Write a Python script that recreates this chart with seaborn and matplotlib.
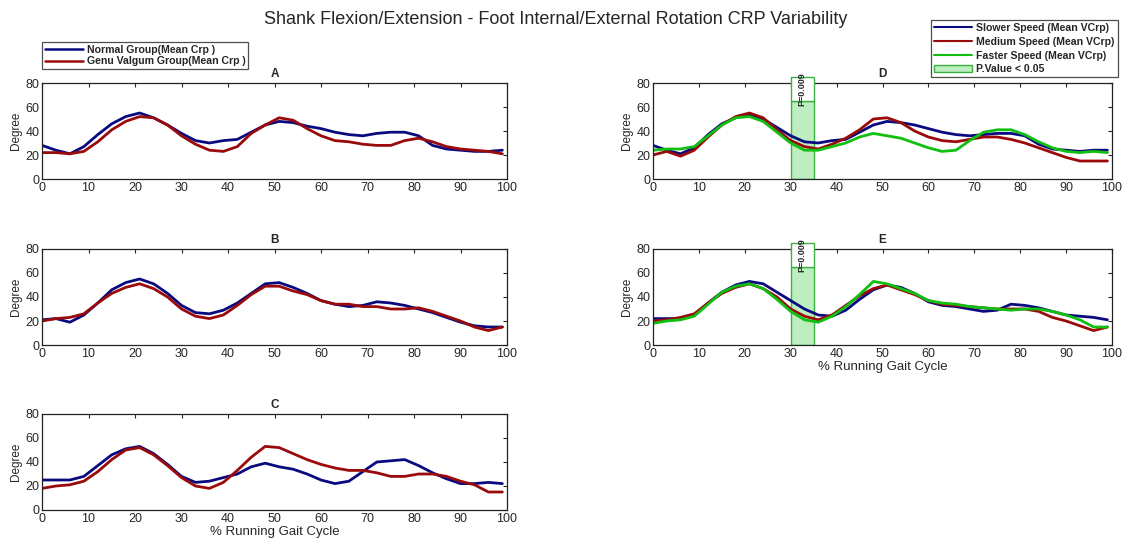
import numpy as np
import pandas as pd
import matplotlib
matplotlib.use("Agg")
import matplotlib.pyplot as plt
from matplotlib.patches import Rectangle, Patch
from matplotlib.lines import Line2D
import seaborn as sns

sns.set_style("white")
plt.rcParams['font.family'] = ['Liberation Sans', 'DejaVu Sans']

# ---------------- data ----------------
gait = list(range(0, 100, 3))  # % running gait cycle

a_normal = [28, 24, 21, 27, 37, 46, 52, 55, 51, 45, 38, 32, 30, 32, 33, 39, 45, 48, 47, 44, 42, 39, 37, 36, 38, 39, 39, 36, 28, 25, 24, 23, 23, 24]
a_valgum = [22, 22, 21, 23, 31, 41, 48, 52, 51, 45, 36, 29, 24, 23, 27, 38, 45, 51, 49, 42, 36, 32, 31, 29, 28, 28, 32, 34, 31, 27, 25, 24, 23, 21]

b_normal = [21, 22, 19, 25, 35, 46, 52, 55, 51, 43, 33, 27, 26, 29, 35, 43, 51, 52, 48, 43, 37, 34, 32, 33, 36, 35, 33, 30, 27, 23, 19, 16, 15, 15]
b_valgum = [20, 22, 23, 26, 35, 43, 48, 51, 47, 40, 30, 24, 22, 25, 33, 42, 49, 49, 45, 42, 37, 34, 34, 32, 32, 30, 30, 31, 28, 24, 20, 15, 12, 15]

c_normal = [25, 25, 25, 28, 37, 46, 51, 53, 47, 38, 28, 23, 24, 27, 30, 36, 39, 36, 34, 30, 25, 22, 24, 32, 40, 41, 42, 37, 31, 26, 22, 22, 23, 22]
c_valgum = [18, 20, 21, 24, 32, 42, 50, 52, 46, 37, 27, 20, 18, 23, 33, 44, 53, 52, 47, 42, 38, 35, 33, 33, 31, 28, 28, 30, 30, 28, 24, 21, 15, 15]

d_slower = [28, 24, 21, 26, 37, 46, 51, 54, 50, 43, 36, 31, 30, 32, 33, 39, 45, 48, 47, 45, 42, 39, 37, 36, 37, 38, 38, 36, 29, 25, 24, 23, 24, 24]
d_medium = [20, 23, 19, 24, 35, 45, 52, 55, 51, 41, 32, 27, 25, 29, 34, 41, 50, 51, 47, 40, 35, 32, 31, 33, 35, 35, 33, 30, 26, 22, 18, 15, 15, 15]
d_faster = [24, 25, 25, 27, 36, 45, 51, 52, 48, 39, 30, 24, 24, 27, 30, 35, 38, 36, 34, 30, 26, 23, 24, 32, 39, 41, 41, 37, 31, 26, 23, 22, 23, 22]

e_slower = [22, 22, 22, 25, 35, 44, 50, 53, 51, 44, 37, 30, 25, 24, 29, 38, 46, 50, 48, 43, 36, 33, 32, 30, 28, 29, 34, 33, 31, 28, 25, 24, 23, 21]
e_medium = [20, 21, 23, 26, 35, 43, 48, 51, 47, 40, 30, 24, 21, 25, 33, 41, 47, 50, 46, 42, 37, 34, 33, 32, 31, 30, 30, 30, 28, 23, 20, 16, 12, 15]
e_faster = [18, 20, 21, 24, 34, 44, 49, 51, 47, 38, 28, 21, 19, 24, 32, 42, 53, 51, 47, 43, 37, 35, 34, 32, 31, 30, 29, 30, 30, 28, 25, 21, 15, 15]

sig_start, sig_end, sig_top, sig_label = 30, 35, 65, "P=0.009"

group_labels = ["Normal Group(Mean Crp )", "Genu Valgum Group(Mean Crp )"]
speed_labels = ["Slower Speed (Mean VCrp)", "Medium Speed (Mean VCrp)", "Faster Speed (Mean VCrp)"]
sig_legend = "P.Value < 0.05"
title = "Shank Flexion/Extension - Foot Internal/External Rotation CRP Variability"

BLUE = "#0a0a80"
RED = "#9a0a0a"
GREEN = "#10c010"
SIGFILL = "#bdeec0"
SIGEDGE = "#3cb043"

# ---------------- figure ----------------
fig = plt.figure(figsize=(11.27, 5.40), dpi=100)

W, H = 1127.0, 540.0
def ax_at(left, right, top, bottom):
    return fig.add_axes([left / W, 1 - bottom / H, (right - left) / W, (bottom - top) / H])

axA = ax_at(42, 507, 83, 179)
axB = ax_at(42, 507, 249, 345)
axC = ax_at(42, 507, 414, 510)
axD = ax_at(653, 1112, 83, 179)
axE = ax_at(653, 1112, 249, 345)

def style(ax, letter):
    ax.set_xlim(0, 100)
    ax.set_ylim(0, 80)
    ax.set_xticks(range(0, 101, 10))
    ax.set_yticks(range(0, 81, 20))
    ax.tick_params(direction='in', top=True, right=True, labelsize=9, length=3, pad=2, width=0.8)
    for s in ax.spines.values():
        s.set_visible(True)
        s.set_color("#222222")
        s.set_linewidth(0.9)
    ax.set_ylabel("Degree", fontsize=8.5, labelpad=2)
    ax.set_xlabel("")
    ax.set_title(letter, fontsize=8.5, fontweight='bold', pad=4)

def draw(ax, series, colors):
    for vals, c in zip(series, colors):
        sns.lineplot(x=gait, y=vals, color=c, linewidth=2.0, ax=ax, legend=False)

draw(axA, [a_normal, a_valgum], [BLUE, RED])
draw(axB, [b_normal, b_valgum], [BLUE, RED])
draw(axC, [c_normal, c_valgum], [BLUE, RED])
draw(axD, [d_slower, d_medium, d_faster], [BLUE, RED, GREEN])
draw(axE, [e_slower, e_medium, e_faster], [BLUE, RED, GREEN])

for ax, letter in zip([axA, axB, axC, axD, axE], "ABCDE"):
    style(ax, letter)

for ax in (axD, axE):
    ax.fill_between([sig_start, sig_end], 0, sig_top, facecolor=SIGFILL,
                    edgecolor=SIGEDGE, linewidth=1.0, zorder=1)
    ax.add_patch(Rectangle((sig_start, sig_top), sig_end - sig_start, 85 - sig_top,
                           facecolor="white", edgecolor=SIGEDGE, linewidth=1.0,
                           clip_on=False, zorder=5))
    ax.text((sig_start + sig_end) / 2, 75, sig_label, rotation=90, fontsize=6.5,
            fontweight='bold', ha='center', va='center', zorder=6, clip_on=False)

axC.set_xlabel("% Running Gait Cycle", fontsize=9.5, labelpad=1)
axE.set_xlabel("% Running Gait Cycle", fontsize=9.5, labelpad=1)

fig.text(556 / W, 1 - 20 / H, title, fontsize=13, ha='center', va='center')

# left legend
h1 = [Line2D([], [], color=BLUE, lw=1.8), Line2D([], [], color=RED, lw=1.8)]
leg1 = fig.legend(h1, group_labels, loc='upper left', bbox_to_anchor=(42 / W, 1 - 42 / H),
                  prop={'size': 7.6, 'weight': 'bold'}, frameon=True, fancybox=False,
                  edgecolor="#222222", borderpad=0.25, labelspacing=0.15, handlelength=3.6,
                  handletextpad=0.4, borderaxespad=0)
leg1.get_frame().set_linewidth(0.9)

# right legend
h2 = [Line2D([], [], color=BLUE, lw=1.5), Line2D([], [], color=RED, lw=1.5),
      Line2D([], [], color=GREEN, lw=1.5),
      Patch(facecolor=SIGFILL, edgecolor=SIGEDGE, linewidth=1.0)]
leg2 = fig.legend(h2, speed_labels + [sig_legend], loc='upper right',
                  bbox_to_anchor=(1118 / W, 1 - 20 / H),
                  prop={'size': 7.6, 'weight': 'bold'}, frameon=True, fancybox=False,
                  edgecolor="#222222", borderpad=0.3, labelspacing=0.35, handlelength=3.6,
                  handletextpad=0.4, borderaxespad=0)
leg2.get_frame().set_linewidth(0.9)

fig.savefig("out.png", dpi=100, facecolor="white")
